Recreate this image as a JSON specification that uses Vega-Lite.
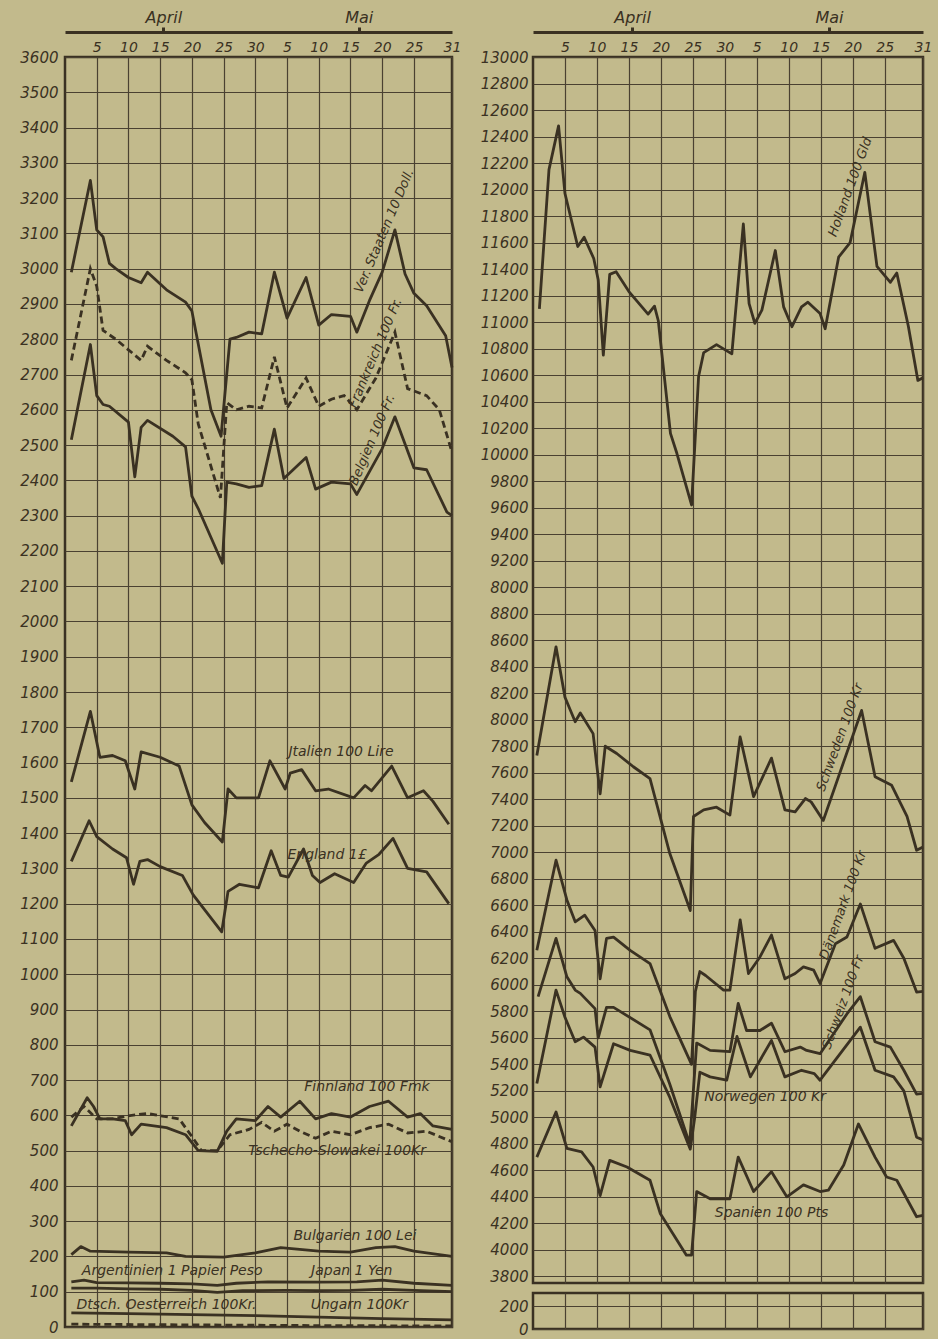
{
"$schema": "https://vega.github.io/schema/vega-lite/v6.json",
"background": "#c2ba8c",
"padding": {"left": 18, "top": 7, "right": 5, "bottom": 0},
"spacing": 16,
"config": {
 "view": {"stroke": "#3a3122", "strokeWidth": 2.5},
 "axis": {"labelFont": "DejaVu Sans", "labelFontStyle": "italic", "labelFontSize": 15, "labelColor": "#3a3122", "gridColor": "#4a4131", "gridWidth": 1.2, "gridOpacity": 1, "labelOverlap": false, "labelFlush": false, "ticks": false, "domain": false, "title": null}
},
"datasets": {
 "left": [
  {"s":"US","d":1,"v":2990},{"s":"US","d":4,"v":3250},{"s":"US","d":5,"v":3110},{"s":"US","d":6,"v":3090},{"s":"US","d":7,"v":3015},{"s":"US","d":8,"v":3000},{"s":"US","d":10,"v":2975},{"s":"US","d":12,"v":2960},{"s":"US","d":13,"v":2990},{"s":"US","d":16,"v":2940},{"s":"US","d":19,"v":2905},{"s":"US","d":20,"v":2880},{"s":"US","d":23,"v":2600},{"s":"US","d":24.6,"v":2525},{"s":"US","d":26,"v":2800},{"s":"US","d":27,"v":2805},{"s":"US","d":29,"v":2820},{"s":"US","d":31,"v":2815},{"s":"US","d":33,"v":2990},{"s":"US","d":35,"v":2860},{"s":"US","d":38,"v":2975},{"s":"US","d":40,"v":2840},{"s":"US","d":42,"v":2870},{"s":"US","d":45,"v":2865},{"s":"US","d":46,"v":2820},{"s":"US","d":48,"v":2910},{"s":"US","d":50,"v":2990},{"s":"US","d":52,"v":3110},{"s":"US","d":53.6,"v":2985},{"s":"US","d":55,"v":2930},{"s":"US","d":57,"v":2895},{"s":"US","d":60,"v":2810},{"s":"US","d":61,"v":2720},
  {"s":"FR","d":1,"v":2740},{"s":"FR","d":4,"v":3000},{"s":"FR","d":5,"v":2950},{"s":"FR","d":6,"v":2825},{"s":"FR","d":8,"v":2800},{"s":"FR","d":10,"v":2770},{"s":"FR","d":12,"v":2740},{"s":"FR","d":13,"v":2780},{"s":"FR","d":16,"v":2740},{"s":"FR","d":19,"v":2705},{"s":"FR","d":20,"v":2685},{"s":"FR","d":21,"v":2560},{"s":"FR","d":24.5,"v":2350},{"s":"FR","d":25.5,"v":2620},{"s":"FR","d":27,"v":2600},{"s":"FR","d":29,"v":2610},{"s":"FR","d":31,"v":2605},{"s":"FR","d":33,"v":2750},{"s":"FR","d":35,"v":2605},{"s":"FR","d":38,"v":2690},{"s":"FR","d":40,"v":2610},{"s":"FR","d":42,"v":2630},{"s":"FR","d":44,"v":2640},{"s":"FR","d":46,"v":2600},{"s":"FR","d":49,"v":2690},{"s":"FR","d":52,"v":2820},{"s":"FR","d":54,"v":2660},{"s":"FR","d":57,"v":2640},{"s":"FR","d":59,"v":2600},{"s":"FR","d":61,"v":2480},
  {"s":"BE","d":1,"v":2515},{"s":"BE","d":4,"v":2785},{"s":"BE","d":5,"v":2640},{"s":"BE","d":6,"v":2615},{"s":"BE","d":7,"v":2610},{"s":"BE","d":10,"v":2565},{"s":"BE","d":11,"v":2410},{"s":"BE","d":12,"v":2550},{"s":"BE","d":13,"v":2570},{"s":"BE","d":17,"v":2525},{"s":"BE","d":19,"v":2495},{"s":"BE","d":20,"v":2355},{"s":"BE","d":21,"v":2320},{"s":"BE","d":24.8,"v":2165},{"s":"BE","d":25.5,"v":2395},{"s":"BE","d":27,"v":2390},{"s":"BE","d":29,"v":2380},{"s":"BE","d":31,"v":2385},{"s":"BE","d":33,"v":2545},{"s":"BE","d":34.5,"v":2405},{"s":"BE","d":38,"v":2465},{"s":"BE","d":39.5,"v":2375},{"s":"BE","d":42,"v":2395},{"s":"BE","d":45,"v":2390},{"s":"BE","d":46,"v":2360},{"s":"BE","d":50,"v":2490},{"s":"BE","d":52,"v":2580},{"s":"BE","d":55,"v":2435},{"s":"BE","d":57,"v":2430},{"s":"BE","d":60.2,"v":2310},{"s":"BE","d":61,"v":2300},
  {"s":"IT","d":1,"v":1545},{"s":"IT","d":4,"v":1745},{"s":"IT","d":5.5,"v":1615},{"s":"IT","d":7.5,"v":1620},{"s":"IT","d":9.5,"v":1605},{"s":"IT","d":11,"v":1525},{"s":"IT","d":12,"v":1630},{"s":"IT","d":15,"v":1615},{"s":"IT","d":18,"v":1590},{"s":"IT","d":20,"v":1480},{"s":"IT","d":22,"v":1430},{"s":"IT","d":24.8,"v":1375},{"s":"IT","d":25.7,"v":1525},{"s":"IT","d":27,"v":1500},{"s":"IT","d":30.5,"v":1500},{"s":"IT","d":32.3,"v":1605},{"s":"IT","d":34.7,"v":1525},{"s":"IT","d":35.5,"v":1570},{"s":"IT","d":37.3,"v":1580},{"s":"IT","d":39.5,"v":1520},{"s":"IT","d":41.5,"v":1525},{"s":"IT","d":45.5,"v":1500},{"s":"IT","d":47.3,"v":1535},{"s":"IT","d":48.3,"v":1520},{"s":"IT","d":51.5,"v":1590},{"s":"IT","d":54,"v":1500},{"s":"IT","d":56.5,"v":1520},{"s":"IT","d":58,"v":1490},{"s":"IT","d":60.5,"v":1425},
  {"s":"EN","d":1,"v":1320},{"s":"EN","d":3.8,"v":1435},{"s":"EN","d":5,"v":1390},{"s":"EN","d":7.5,"v":1355},{"s":"EN","d":9.7,"v":1330},{"s":"EN","d":10.8,"v":1255},{"s":"EN","d":11.8,"v":1320},{"s":"EN","d":13,"v":1325},{"s":"EN","d":15,"v":1305},{"s":"EN","d":18.5,"v":1280},{"s":"EN","d":20.2,"v":1225},{"s":"EN","d":24.7,"v":1120},{"s":"EN","d":25.7,"v":1235},{"s":"EN","d":27.5,"v":1255},{"s":"EN","d":30.5,"v":1245},{"s":"EN","d":32.5,"v":1350},{"s":"EN","d":34,"v":1280},{"s":"EN","d":35.2,"v":1275},{"s":"EN","d":37.6,"v":1355},{"s":"EN","d":39,"v":1280},{"s":"EN","d":40.2,"v":1260},{"s":"EN","d":42.5,"v":1285},{"s":"EN","d":45.5,"v":1260},{"s":"EN","d":47.5,"v":1315},{"s":"EN","d":49.5,"v":1340},{"s":"EN","d":51.7,"v":1385},{"s":"EN","d":54,"v":1300},{"s":"EN","d":57,"v":1290},{"s":"EN","d":60.5,"v":1200},
  {"s":"FI","d":1,"v":570},{"s":"FI","d":3.5,"v":650},{"s":"FI","d":4.5,"v":625},{"s":"FI","d":5.5,"v":590},{"s":"FI","d":7.5,"v":590},{"s":"FI","d":9.5,"v":585},{"s":"FI","d":10.5,"v":545},{"s":"FI","d":12,"v":575},{"s":"FI","d":16,"v":565},{"s":"FI","d":19,"v":545},{"s":"FI","d":21,"v":500},{"s":"FI","d":24,"v":498},{"s":"FI","d":25.5,"v":555},{"s":"FI","d":27,"v":590},{"s":"FI","d":30,"v":585},{"s":"FI","d":32,"v":625},{"s":"FI","d":34,"v":595},{"s":"FI","d":37,"v":640},{"s":"FI","d":39.5,"v":590},{"s":"FI","d":42,"v":605},{"s":"FI","d":45,"v":595},{"s":"FI","d":48,"v":625},{"s":"FI","d":51,"v":640},{"s":"FI","d":54,"v":595},{"s":"FI","d":56,"v":605},{"s":"FI","d":58,"v":570},{"s":"FI","d":61,"v":560},
  {"s":"CS","d":1,"v":595},{"s":"CS","d":3,"v":625},{"s":"CS","d":5,"v":590},{"s":"CS","d":7.5,"v":590},{"s":"CS","d":10.5,"v":600},{"s":"CS","d":13,"v":605},{"s":"CS","d":18,"v":590},{"s":"CS","d":20,"v":540},{"s":"CS","d":21.5,"v":500},{"s":"CS","d":24,"v":500},{"s":"CS","d":26,"v":545},{"s":"CS","d":29,"v":560},{"s":"CS","d":31,"v":580},{"s":"CS","d":33,"v":555},{"s":"CS","d":35,"v":575},{"s":"CS","d":37,"v":555},{"s":"CS","d":39.5,"v":535},{"s":"CS","d":42,"v":555},{"s":"CS","d":45,"v":545},{"s":"CS","d":48,"v":565},{"s":"CS","d":51,"v":575},{"s":"CS","d":54,"v":550},{"s":"CS","d":57,"v":555},{"s":"CS","d":61,"v":525},
  {"s":"BG","d":1,"v":205},{"s":"BG","d":2.5,"v":228},{"s":"BG","d":4,"v":215},{"s":"BG","d":10,"v":212},{"s":"BG","d":16,"v":210},{"s":"BG","d":19,"v":200},{"s":"BG","d":25,"v":198},{"s":"BG","d":30,"v":210},{"s":"BG","d":34,"v":225},{"s":"BG","d":40,"v":215},{"s":"BG","d":45,"v":212},{"s":"BG","d":49,"v":225},{"s":"BG","d":52,"v":228},{"s":"BG","d":55,"v":215},{"s":"BG","d":61,"v":200},
  {"s":"AR","d":1,"v":128},{"s":"AR","d":3,"v":133},{"s":"AR","d":5,"v":126},{"s":"AR","d":10,"v":125},{"s":"AR","d":15,"v":124},{"s":"AR","d":20,"v":122},{"s":"AR","d":24,"v":118},{"s":"AR","d":27,"v":124},{"s":"AR","d":32,"v":128},{"s":"AR","d":40,"v":127},{"s":"AR","d":46,"v":128},{"s":"AR","d":50,"v":133},{"s":"AR","d":55,"v":124},{"s":"AR","d":61,"v":118},
  {"s":"JP","d":1,"v":110},{"s":"JP","d":5,"v":110},{"s":"JP","d":10,"v":108},{"s":"JP","d":15,"v":107},{"s":"JP","d":20,"v":104},{"s":"JP","d":24,"v":98},{"s":"JP","d":28,"v":103},{"s":"JP","d":35,"v":104},{"s":"JP","d":40,"v":103},{"s":"JP","d":45,"v":104},{"s":"JP","d":50,"v":107},{"s":"JP","d":55,"v":104},{"s":"JP","d":61,"v":100},
  {"s":"HU","d":1,"v":40},{"s":"HU","d":10,"v":38},{"s":"HU","d":20,"v":35},{"s":"HU","d":30,"v":32},{"s":"HU","d":40,"v":28},{"s":"HU","d":50,"v":24},{"s":"HU","d":61,"v":20},
  {"s":"AT","d":1,"v":8},{"s":"AT","d":20,"v":6},{"s":"AT","d":40,"v":4},{"s":"AT","d":61,"v":3}
 ],
 "right": [
  {"s":"NL","d":1,"v":11100},{"s":"NL","d":2.5,"v":12150},{"s":"NL","d":4,"v":12480},{"s":"NL","d":5,"v":11970},{"s":"NL","d":6,"v":11770},{"s":"NL","d":7,"v":11570},{"s":"NL","d":8,"v":11640},{"s":"NL","d":9.5,"v":11480},{"s":"NL","d":10.2,"v":11320},{"s":"NL","d":11,"v":10750},{"s":"NL","d":12,"v":11360},{"s":"NL","d":13,"v":11380},{"s":"NL","d":15,"v":11230},{"s":"NL","d":18,"v":11060},{"s":"NL","d":19,"v":11120},{"s":"NL","d":19.6,"v":11010},{"s":"NL","d":21.5,"v":10160},{"s":"NL","d":22.5,"v":10010},{"s":"NL","d":24.8,"v":9620},{"s":"NL","d":25.9,"v":10590},{"s":"NL","d":26.7,"v":10770},{"s":"NL","d":28.7,"v":10830},{"s":"NL","d":31.1,"v":10760},{"s":"NL","d":32.9,"v":11740},{"s":"NL","d":33.8,"v":11140},{"s":"NL","d":34.7,"v":10990},{"s":"NL","d":35.8,"v":11090},{"s":"NL","d":37.9,"v":11540},{"s":"NL","d":39.2,"v":11115},{"s":"NL","d":40.5,"v":10965},{"s":"NL","d":42,"v":11115},{"s":"NL","d":43,"v":11150},{"s":"NL","d":44.9,"v":11065},{"s":"NL","d":45.7,"v":10950},{"s":"NL","d":47.8,"v":11490},{"s":"NL","d":49.6,"v":11600},{"s":"NL","d":51.9,"v":12130},{"s":"NL","d":53.8,"v":11420},{"s":"NL","d":55.9,"v":11300},{"s":"NL","d":56.9,"v":11370},{"s":"NL","d":58.7,"v":10970},{"s":"NL","d":60.2,"v":10560},{"s":"NL","d":61,"v":10580},
  {"s":"SE","d":0.6,"v":7730},{"s":"SE","d":3.6,"v":8550},{"s":"SE","d":5,"v":8170},{"s":"SE","d":6.6,"v":7985},{"s":"SE","d":7.4,"v":8050},{"s":"SE","d":9.4,"v":7895},{"s":"SE","d":10.5,"v":7440},{"s":"SE","d":11.3,"v":7800},{"s":"SE","d":13.1,"v":7745},{"s":"SE","d":15.7,"v":7645},{"s":"SE","d":18.3,"v":7555},{"s":"SE","d":21.4,"v":6990},{"s":"SE","d":24.6,"v":6560},{"s":"SE","d":25.1,"v":7270},{"s":"SE","d":26.7,"v":7320},{"s":"SE","d":28.7,"v":7340},{"s":"SE","d":30.8,"v":7280},{"s":"SE","d":32.4,"v":7870},{"s":"SE","d":34.5,"v":7420},{"s":"SE","d":37.3,"v":7710},{"s":"SE","d":39.4,"v":7320},{"s":"SE","d":41,"v":7305},{"s":"SE","d":42.6,"v":7405},{"s":"SE","d":43.5,"v":7380},{"s":"SE","d":45.4,"v":7240},{"s":"SE","d":51.4,"v":8070},{"s":"SE","d":53.5,"v":7570},{"s":"SE","d":56.1,"v":7505},{"s":"SE","d":58.5,"v":7270},{"s":"SE","d":60,"v":7015},{"s":"SE","d":61,"v":7040},
  {"s":"DK","d":0.6,"v":6260},{"s":"DK","d":3.6,"v":6940},{"s":"DK","d":5.3,"v":6640},{"s":"DK","d":6.6,"v":6475},{"s":"DK","d":8.1,"v":6525},{"s":"DK","d":9.7,"v":6410},{"s":"DK","d":10.5,"v":6045},{"s":"DK","d":11.5,"v":6350},{"s":"DK","d":12.6,"v":6360},{"s":"DK","d":15.2,"v":6260},{"s":"DK","d":18.3,"v":6160},{"s":"DK","d":21.4,"v":5760},{"s":"DK","d":24.8,"v":5400},{"s":"DK","d":25.4,"v":5950},{"s":"DK","d":26.1,"v":6100},{"s":"DK","d":27,"v":6070},{"s":"DK","d":29.8,"v":5960},{"s":"DK","d":30.8,"v":5960},{"s":"DK","d":32.4,"v":6490},{"s":"DK","d":33.7,"v":6085},{"s":"DK","d":35.5,"v":6210},{"s":"DK","d":37.3,"v":6375},{"s":"DK","d":39.4,"v":6045},{"s":"DK","d":41,"v":6085},{"s":"DK","d":42.3,"v":6135},{"s":"DK","d":43.9,"v":6110},{"s":"DK","d":44.9,"v":6010},{"s":"DK","d":47.3,"v":6310},{"s":"DK","d":49.1,"v":6360},{"s":"DK","d":51.2,"v":6610},{"s":"DK","d":53.5,"v":6275},{"s":"DK","d":56.4,"v":6335},{"s":"DK","d":58,"v":6200},{"s":"DK","d":60,"v":5945},{"s":"DK","d":61,"v":5950},
  {"s":"CH","d":0.8,"v":5910},{"s":"CH","d":3.6,"v":6350},{"s":"CH","d":5.3,"v":6060},{"s":"CH","d":6.6,"v":5960},{"s":"CH","d":7.4,"v":5935},{"s":"CH","d":9.7,"v":5820},{"s":"CH","d":10.2,"v":5600},{"s":"CH","d":11.5,"v":5830},{"s":"CH","d":12.6,"v":5830},{"s":"CH","d":18.3,"v":5660},{"s":"CH","d":21.4,"v":5250},{"s":"CH","d":24.5,"v":4800},{"s":"CH","d":25.6,"v":5560},{"s":"CH","d":27.7,"v":5505},{"s":"CH","d":30.8,"v":5495},{"s":"CH","d":32.1,"v":5860},{"s":"CH","d":33.4,"v":5655},{"s":"CH","d":35.5,"v":5655},{"s":"CH","d":37.3,"v":5710},{"s":"CH","d":39.4,"v":5495},{"s":"CH","d":41.8,"v":5530},{"s":"CH","d":42.8,"v":5505},{"s":"CH","d":44.9,"v":5480},{"s":"CH","d":49.1,"v":5780},{"s":"CH","d":51.2,"v":5910},{"s":"CH","d":53.5,"v":5570},{"s":"CH","d":55.9,"v":5530},{"s":"CH","d":58,"v":5355},{"s":"CH","d":60,"v":5175},{"s":"CH","d":61,"v":5180},
  {"s":"NO","d":0.6,"v":5255},{"s":"NO","d":3.6,"v":5960},{"s":"NO","d":5,"v":5755},{"s":"NO","d":6.6,"v":5570},{"s":"NO","d":7.9,"v":5605},{"s":"NO","d":9.7,"v":5530},{"s":"NO","d":10.5,"v":5230},{"s":"NO","d":12.6,"v":5555},{"s":"NO","d":15.2,"v":5505},{"s":"NO","d":18.3,"v":5470},{"s":"NO","d":21.4,"v":5150},{"s":"NO","d":24.6,"v":4760},{"s":"NO","d":25.3,"v":5000},{"s":"NO","d":26.1,"v":5340},{"s":"NO","d":27.7,"v":5305},{"s":"NO","d":30.3,"v":5280},{"s":"NO","d":31.9,"v":5610},{"s":"NO","d":34,"v":5305},{"s":"NO","d":37.3,"v":5580},{"s":"NO","d":39.4,"v":5305},{"s":"NO","d":42,"v":5355},{"s":"NO","d":44,"v":5330},{"s":"NO","d":44.9,"v":5280},{"s":"NO","d":51.2,"v":5680},{"s":"NO","d":53.5,"v":5355},{"s":"NO","d":56.4,"v":5305},{"s":"NO","d":58,"v":5200},{"s":"NO","d":60,"v":4850},{"s":"NO","d":61,"v":4830},
  {"s":"ES","d":0.6,"v":4700},{"s":"ES","d":3.6,"v":5040},{"s":"ES","d":5.3,"v":4765},{"s":"ES","d":7.6,"v":4740},{"s":"ES","d":9.4,"v":4625},{"s":"ES","d":10.5,"v":4410},{"s":"ES","d":12,"v":4675},{"s":"ES","d":14.7,"v":4625},{"s":"ES","d":18.3,"v":4525},{"s":"ES","d":19.9,"v":4275},{"s":"ES","d":24,"v":3960},{"s":"ES","d":24.8,"v":3960},{"s":"ES","d":25.6,"v":4440},{"s":"ES","d":27.7,"v":4385},{"s":"ES","d":30.8,"v":4385},{"s":"ES","d":32.1,"v":4700},{"s":"ES","d":34.5,"v":4440},{"s":"ES","d":37.3,"v":4590},{"s":"ES","d":39.7,"v":4400},{"s":"ES","d":42.3,"v":4490},{"s":"ES","d":44.9,"v":4440},{"s":"ES","d":46.2,"v":4450},{"s":"ES","d":48.6,"v":4640},{"s":"ES","d":50.9,"v":4950},{"s":"ES","d":53.5,"v":4700},{"s":"ES","d":55.3,"v":4550},{"s":"ES","d":56.9,"v":4525},{"s":"ES","d":60,"v":4250},{"s":"ES","d":61,"v":4260}
 ],
 "labL": [
  {"t":"Jtalien 100 Lire","d":43.5,"v":1630},
  {"t":"England 1£","d":41.3,"v":1338},
  {"t":"Finnland 100 Fmk","d":47.6,"v":681},
  {"t":"Tschecho-Slowakei 100Kr","d":42.9,"v":500},
  {"t":"Bulgarien 100 Lei","d":45.7,"v":259},
  {"t":"Argentinien 1 Papier Peso","d":16.9,"v":160},
  {"t":"Japan 1 Yen","d":45.2,"v":160},
  {"t":"Dtsch. Oesterreich 100Kr.","d":16,"v":63},
  {"t":"Ungarn 100Kr","d":46.4,"v":63}
 ],
 "labLr": [
  {"t":"Ver. Staaten 10 Doll.","d":50.3,"v":3107},
  {"t":"Frankreich 100 Fr.","d":48.9,"v":2761},
  {"t":"Belgien 100 Fr.","d":48.4,"v":2515}
 ],
 "labR": [
  {"t":"Norwegen 100 Kr","d":36.3,"v":5151},
  {"t":"Spanien 100 Pts","d":37.3,"v":4276}
 ],
 "labRr": [
  {"t":"Holland 100 Gld","d":49.6,"v":12019},
  {"t":"Schweden 100 Kr","d":48,"v":7868},
  {"t":"Dänemark 100 Kr","d":48.5,"v":6600},
  {"t":"Schweiz 100 Fr","d":48.5,"v":5868}
 ]
},
"hconcat": [
 {
  "width": 387, "height": 1270,
  "resolve": {"axis": {"x": "independent", "y": "independent"}},
  "layer": [
   {"data": {"name": "left"},
    "transform": [{"filter": {"not": {"field": "s", "oneOf": ["FR", "CS", "AT"]}}}],
    "mark": {"type": "line", "strokeWidth": 2.8, "color": "#3a3122", "strokeJoin": "round"},
    "encoding": {
     "x": {"field": "d", "type": "quantitative", "scale": {"domain": [0, 61], "nice": false, "zero": false},
       "axis": {"orient": "top", "values": [5,10,15,20,25,30,35,40,45,50,55,61], "labelExpr": "datum.value<=30 ? ''+datum.value : (datum.value==61 ? '31' : ''+(datum.value-30))", "grid": true, "labelPadding": 3, "labelFontSize": 14}},
     "y": {"field": "v", "type": "quantitative", "scale": {"domain": [0, 3600], "nice": false, "zero": false},
       "axis": {"orient": "left", "values": [0,100,200,300,400,500,600,700,800,900,1000,1100,1200,1300,1400,1500,1600,1700,1800,1900,2000,2100,2200,2300,2400,2500,2600,2700,2800,2900,3000,3100,3200,3300,3400,3500,3600], "format": "d", "grid": true, "labelPadding": 7}},
     "detail": {"field": "s"}
    }},
   {"data": {"name": "left"},
    "transform": [{"filter": {"field": "s", "oneOf": ["FR", "CS", "AT"]}}],
    "mark": {"type": "line", "strokeWidth": 2.8, "color": "#3a3122", "strokeDash": [7, 4]},
    "encoding": {
     "x": {"field": "d", "type": "quantitative", "axis": null},
     "y": {"field": "v", "type": "quantitative", "axis": null},
     "detail": {"field": "s"}
    }},
   {"data": {"name": "labL"},
    "mark": {"type": "text", "font": "DejaVu Sans", "fontStyle": "italic", "fontSize": 14, "color": "#3a3122"},
    "encoding": {
     "x": {"field": "d", "type": "quantitative",
       "axis": {"orient": "top", "values": [15.5, 46.3], "labelExpr": "datum.value<30 ? 'April' : 'Mai'", "offset": 25, "domain": true, "domainWidth": 3, "domainColor": "#3a3122", "ticks": true, "tickSize": 5, "tickWidth": 3, "tickColor": "#3a3122", "labelPadding": 2, "labelFontSize": 16, "grid": false}},
     "y": {"field": "v", "type": "quantitative", "axis": null},
     "text": {"field": "t"}
    }},
   {"data": {"name": "labLr"},
    "mark": {"type": "text", "font": "DejaVu Sans", "fontStyle": "italic", "fontSize": 13, "color": "#3a3122", "angle": 293},
    "encoding": {
     "x": {"field": "d", "type": "quantitative", "axis": null},
     "y": {"field": "v", "type": "quantitative", "axis": null},
     "text": {"field": "t"}
    }}
  ]
 },
 {
  "spacing": 5,
  "vconcat": [
   {
    "width": 390, "height": 1226,
    "resolve": {"axis": {"x": "independent", "y": "independent"}},
    "layer": [
     {"data": {"name": "right"},
      "mark": {"type": "line", "strokeWidth": 2.8, "color": "#3a3122", "strokeJoin": "round"},
      "encoding": {
       "x": {"field": "d", "type": "quantitative", "scale": {"domain": [0, 61], "nice": false, "zero": false},
         "axis": {"orient": "top", "values": [5,10,15,20,25,30,35,40,45,50,55,61], "labelExpr": "datum.value<=30 ? ''+datum.value : (datum.value==61 ? '31' : ''+(datum.value-30))", "grid": true, "labelPadding": 3, "labelFontSize": 14}},
       "y": {"field": "v", "type": "quantitative", "scale": {"domain": [3750, 13000], "nice": false, "zero": false},
         "axis": {"orient": "left", "values": [3800,4000,4200,4400,4600,4800,5000,5200,5400,5600,5800,6000,6200,6400,6600,6800,7000,7200,7400,7600,7800,8000,8200,8400,8600,8800,9000,9200,9400,9600,9800,10000,10200,10400,10600,10800,11000,11200,11400,11600,11800,12000,12200,12400,12600,12800,13000], "labelExpr": "datum.value==9000 ? '8000' : ''+datum.value", "grid": true, "labelPadding": 5}},
       "detail": {"field": "s"}
      }},
     {"data": {"name": "labR"},
      "mark": {"type": "text", "font": "DejaVu Sans", "fontStyle": "italic", "fontSize": 14, "color": "#3a3122"},
      "encoding": {
       "x": {"field": "d", "type": "quantitative",
         "axis": {"orient": "top", "values": [15.5, 46.3], "labelExpr": "datum.value<30 ? 'April' : 'Mai'", "offset": 25, "domain": true, "domainWidth": 3, "domainColor": "#3a3122", "ticks": true, "tickSize": 5, "tickWidth": 3, "tickColor": "#3a3122", "labelPadding": 2, "labelFontSize": 16, "grid": false}},
       "y": {"field": "v", "type": "quantitative", "axis": null},
       "text": {"field": "t"}
      }},
     {"data": {"name": "labRr"},
      "mark": {"type": "text", "font": "DejaVu Sans", "fontStyle": "italic", "fontSize": 13, "color": "#3a3122", "angle": 290},
      "encoding": {
       "x": {"field": "d", "type": "quantitative", "axis": null},
       "y": {"field": "v", "type": "quantitative", "axis": null},
       "text": {"field": "t"}
      }}
    ]
   },
   {
    "width": 390, "height": 36,
    "data": {"name": "right"},
    "transform": [{"filter": "datum.v < 300"}],
    "mark": {"type": "line", "strokeWidth": 2.8, "color": "#3a3122"},
    "encoding": {
     "x": {"field": "d", "type": "quantitative", "scale": {"domain": [0, 61], "nice": false, "zero": false},
       "axis": {"orient": "bottom", "values": [5,10,15,20,25,30,35,40,45,50,55,61], "grid": true, "labels": false}},
     "y": {"field": "v", "type": "quantitative", "scale": {"domain": [0, 315], "nice": false, "zero": false},
       "axis": {"orient": "left", "values": [0, 200], "format": "d", "grid": true, "labelPadding": 5}},
     "detail": {"field": "s"}
    }
   }
  ]
 }
]
}
